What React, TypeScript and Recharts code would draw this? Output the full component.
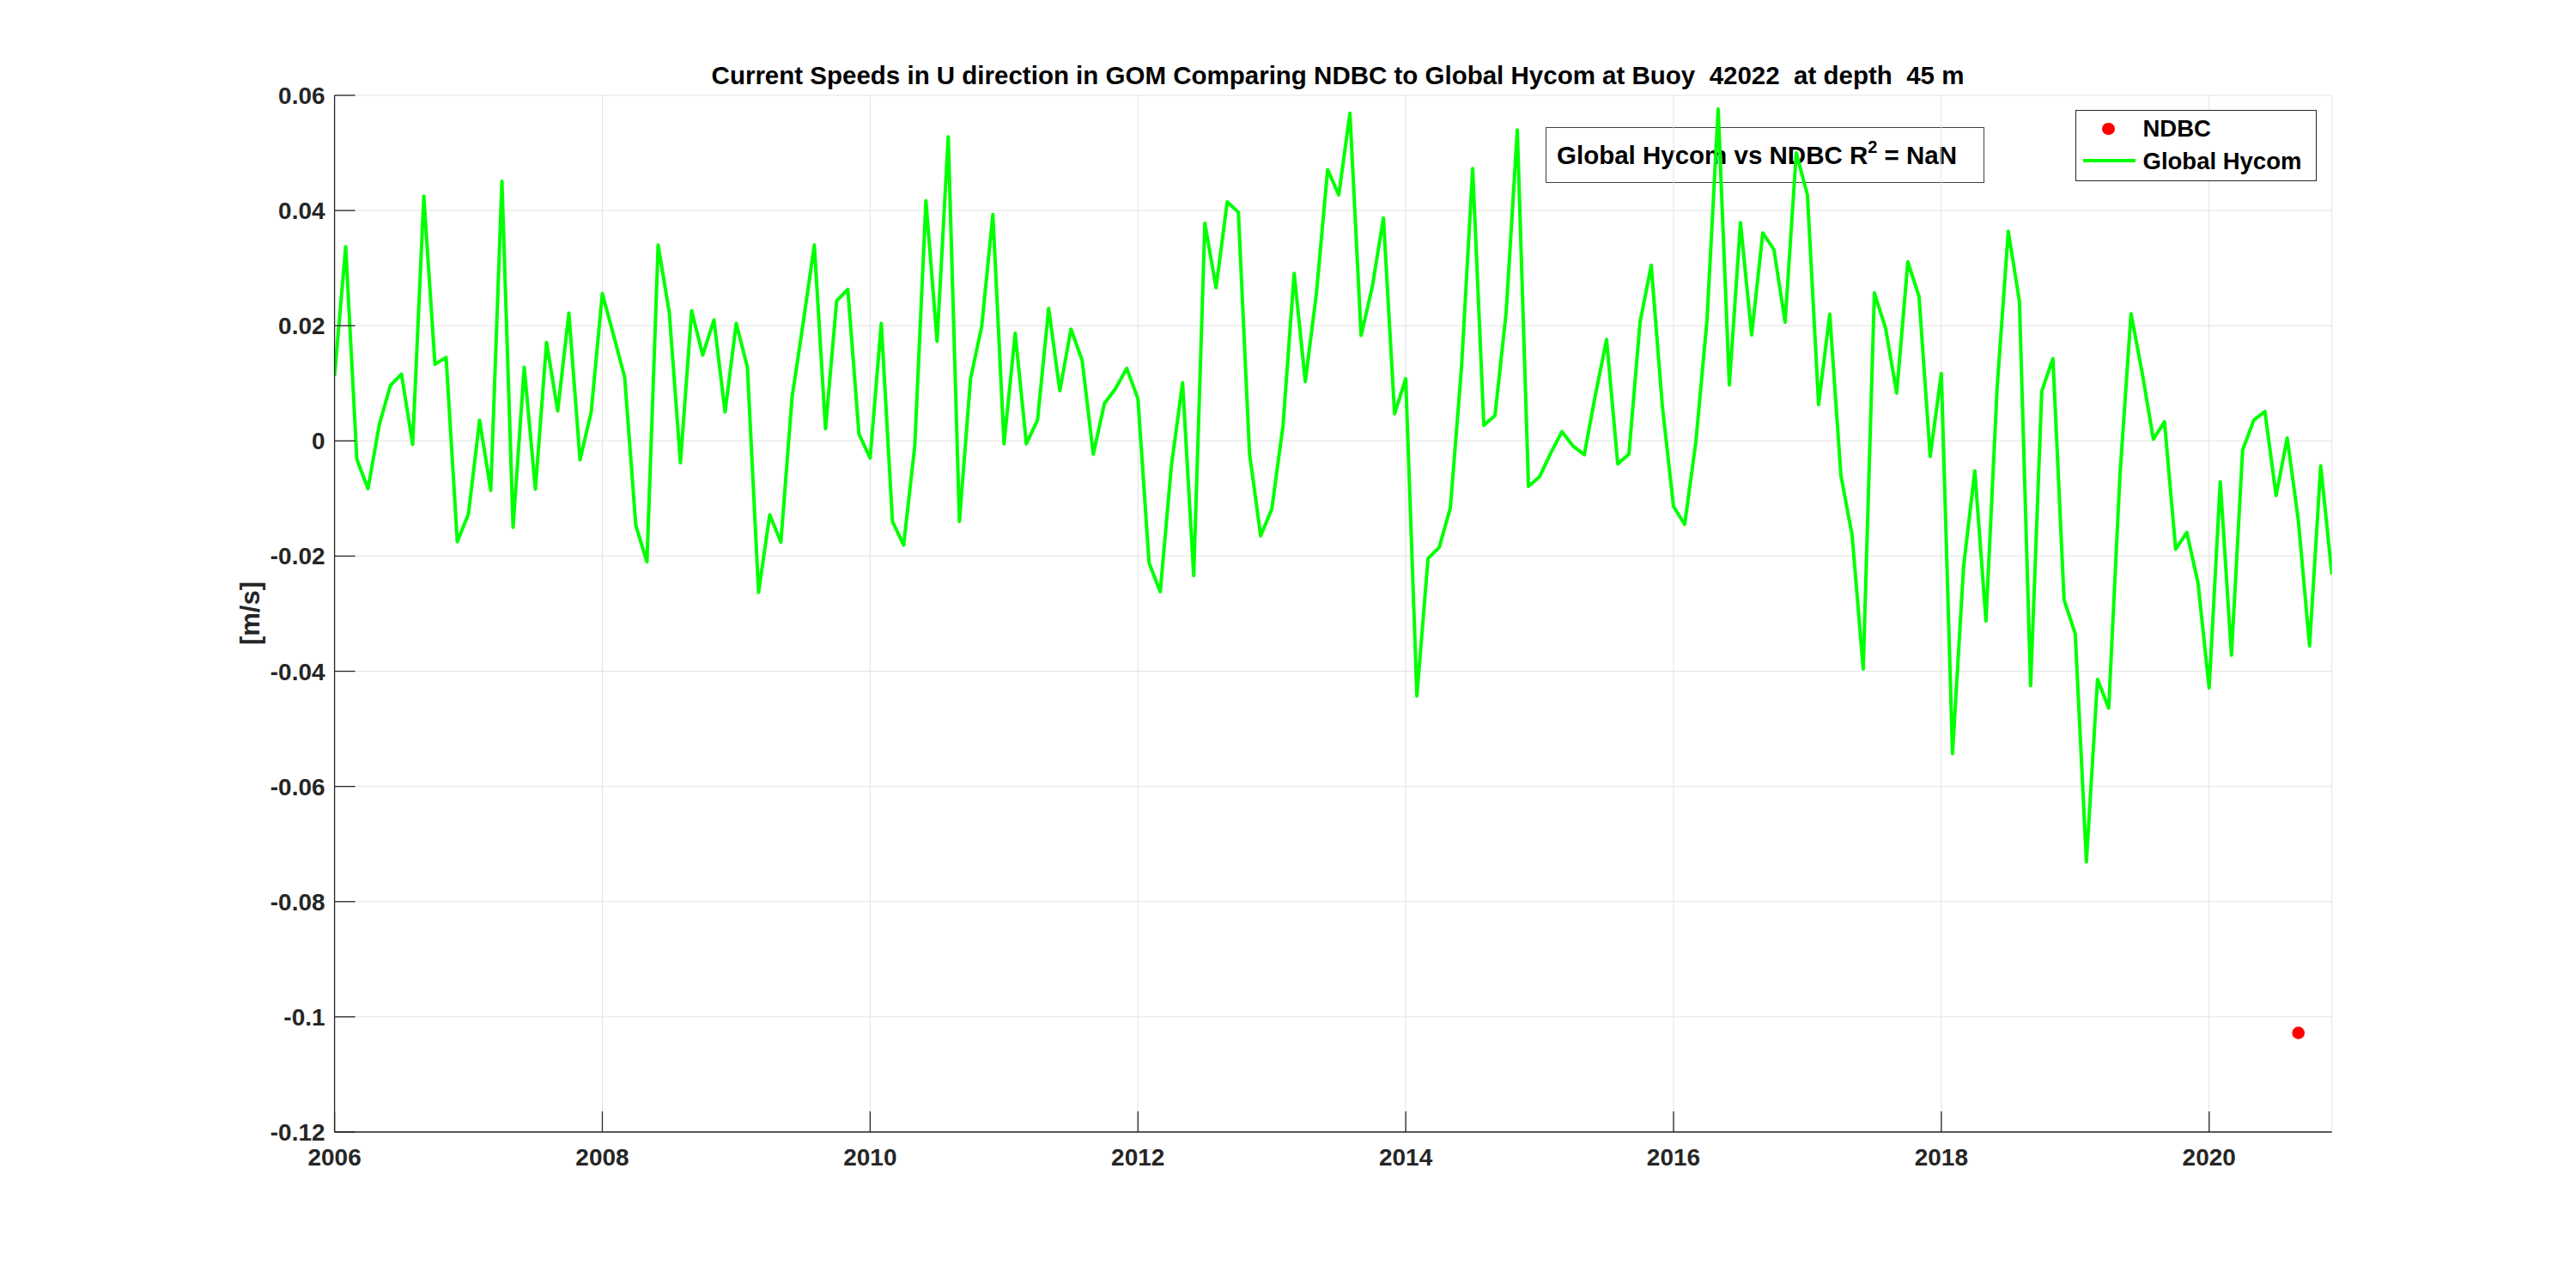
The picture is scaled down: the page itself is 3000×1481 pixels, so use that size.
import React from 'react';
import { ComposedChart, Line, Scatter, XAxis, YAxis, CartesianGrid } from 'recharts';

// Monthly Global Hycom U-velocity (m/s), Jan 2006 .. Dec 2020
const START_YEAR = 2006;
const hycomU: number[] = [
  0.0113, 0.0337, -0.0032, -0.0083, 0.0027, 0.0096, 0.0116, -0.0006, 0.0425, 0.0133, 0.0145, -0.0175,
  -0.0127, 0.0036, -0.0086, 0.0451, -0.0150, 0.0128, -0.0084, 0.0171, 0.0052, 0.0222, -0.0033, 0.0050,
  0.0256, 0.0184, 0.0111, -0.0147, -0.0210, 0.0340, 0.0223, -0.0038, 0.0226, 0.0149, 0.0210, 0.0050,
  0.0204, 0.0128, -0.0263, -0.0128, -0.0176, 0.0075, 0.0205, 0.0340, 0.0021, 0.0243, 0.0263, 0.0012,
  -0.0030, 0.0204, -0.0140, -0.0181, -0.0009, 0.0417, 0.0173, 0.0528, -0.0140, 0.0108, 0.0199, 0.0393,
  -0.0005, 0.0187, -0.0005, 0.0036, 0.0230, 0.0087, 0.0194, 0.0140, -0.0023, 0.0065, 0.0091, 0.0126,
  0.0073, -0.0212, -0.0262, -0.0043, 0.0101, -0.0234, 0.0378, 0.0266, 0.0415, 0.0397, -0.0022, -0.0165,
  -0.0118, 0.0026, 0.0291, 0.0103, 0.0257, 0.0471, 0.0427, 0.0569, 0.0183, 0.0267, 0.0387, 0.0047,
  0.0108, -0.0443, -0.0204, -0.0185, -0.0116, 0.0128, 0.0473, 0.0027, 0.0044, 0.0223, 0.0540, -0.0079,
  -0.0062, -0.0021, 0.0016, -0.0009, -0.0024, 0.0080, 0.0176, -0.0040, -0.0023, 0.0206, 0.0305, 0.0060,
  -0.0114, -0.0145, -0.0002, 0.0210, 0.0576, 0.0097, 0.0379, 0.0184, 0.0361, 0.0332, 0.0206, 0.0500,
  0.0427, 0.0063, 0.0220, -0.0060, -0.0163, -0.0396, 0.0257, 0.0196, 0.0083, 0.0311, 0.0251, -0.0027,
  0.0117, -0.0543, -0.0217, -0.0052, -0.0313, 0.0092, 0.0364, 0.0242, -0.0425, 0.0086, 0.0143, -0.0276,
  -0.0335, -0.0731, -0.0414, -0.0464, -0.0062, 0.0221, 0.0118, 0.0003, 0.0033, -0.0188, -0.0159, -0.0246,
  -0.0429, -0.0071, -0.0372, -0.0016, 0.0036, 0.0051, -0.0095, 0.0005, -0.0139, -0.0356, -0.0043, -0.0232,
];

// NDBC observation (only one valid monthly value)
const ndbcYear = 2020;
const ndbcMonth = 9; // September
const ndbcU = -0.1028;

const xTicks = [2006, 2008, 2010, 2012, 2014, 2016, 2018, 2020];
const yTicks = [0.06, 0.04, 0.02, 0, -0.02, -0.04, -0.06, -0.08, -0.1, -0.12];

const data = hycomU.map((v, i) => ({ t: START_YEAR + i / 12, hycom: v }));
const ndbcData = [{ t: ndbcYear + (ndbcMonth - 1) / 12, ndbc: ndbcU }];

const W = 2984;
const H = 1465;
const PLOT_LEFT = 381.6;
const PLOT_TOP = 103;
const PLOT_W = 2326.1;
const PLOT_H = 1207;
const YAXIS_W = 100;
const XAXIS_H = 60;

const FONT = '"Liberation Sans", Arial, Helvetica, sans-serif';
const AXC = '#262626';
const TL = 24;

const fmtY = (v: number) => String(Number(v.toFixed(2)));

const BottomTick = (p: any) => (
  <g>
    <line x1={p.x} y1={p.y} x2={p.x} y2={p.y - TL} stroke={AXC} strokeWidth={1.3} />
    <text x={p.x} y={p.y + 39} textAnchor="middle" fill={AXC} fontFamily={FONT} fontWeight="bold" fontSize={28}>
      {p.payload.value}
    </text>
  </g>
);
const TopTick = (p: any) => (
  <line x1={p.x} y1={p.y} x2={p.x} y2={p.y + TL} stroke={AXC} strokeWidth={1.3} />
);
const LeftTick = (p: any) => (
  <g>
    <line x1={p.x} y1={p.y} x2={p.x + TL} y2={p.y} stroke={AXC} strokeWidth={1.3} />
    <text x={p.x - 11} y={p.y + 10} textAnchor="end" fill={AXC} fontFamily={FONT} fontWeight="bold" fontSize={28}>
      {fmtY(p.payload.value)}
    </text>
  </g>
);
const RightTick = (p: any) => (
  <line x1={p.x} y1={p.y} x2={p.x - TL} y2={p.y} stroke={AXC} strokeWidth={1.3} />
);

export default function App() {
  const xDomain: [number, number] = [START_YEAR, START_YEAR + (hycomU.length - 1) / 12];
  const yDomain: [number, number] = [-0.12, 0.06];
  return (
    <div style={{ position: 'relative', width: W, height: H, fontFamily: FONT, background: '#fff' }}>
      {/* text box (under the chart, transparent) */}
      <div
        style={{
          position: 'absolute', left: 1792, top: 140, width: 511, height: 65, boxSizing: 'border-box',
          border: '1.5px solid #404040', display: 'flex', alignItems: 'center', paddingLeft: 12,
          fontWeight: 'bold', fontSize: 29.5, color: '#000', whiteSpace: 'nowrap',
        }}
      >
        <span>
          Global Hycom vs NDBC R<sup style={{ fontSize: 20, verticalAlign: 'baseline', position: 'relative', top: -13 }}>2</sup> = NaN
        </span>
      </div>
      <div style={{ position: 'absolute', left: 0, top: 0 }}>
        <ComposedChart
          width={W}
          height={H}
          data={data}
          margin={{ top: PLOT_TOP, left: PLOT_LEFT - YAXIS_W, right: W - PLOT_LEFT - PLOT_W, bottom: H - PLOT_TOP - PLOT_H - XAXIS_H }}
        >
          <CartesianGrid stroke="#e3e3e3" strokeWidth={1} />
          <XAxis
            dataKey="t" type="number" domain={xDomain} allowDataOverflow ticks={xTicks} interval={0}
            height={XAXIS_H} tickSize={0} tickMargin={0} tick={BottomTick}
            axisLine={{ stroke: AXC, strokeWidth: 1.3 }} tickLine={false}
          />
          <XAxis
            xAxisId="top" orientation="top" dataKey="t" type="number" domain={xDomain} allowDataOverflow
            ticks={xTicks} interval={0} height={0} tickSize={0} tickMargin={0} tick={TopTick}
            axisLine={{ stroke: AXC, strokeWidth: 1.3 }} tickLine={false}
          />
          <YAxis
            type="number" domain={yDomain} allowDataOverflow ticks={yTicks} interval={0}
            width={YAXIS_W} tickSize={0} tickMargin={0} tick={LeftTick}
            axisLine={{ stroke: AXC, strokeWidth: 1.3 }} tickLine={false}
          />
          <YAxis
            yAxisId="right" orientation="right" type="number" domain={yDomain} allowDataOverflow ticks={yTicks}
            interval={0} width={0} tickSize={0} tickMargin={0} tick={RightTick}
            axisLine={{ stroke: AXC, strokeWidth: 1.3 }} tickLine={false}
          />
          <Line
            dataKey="hycom" stroke="#00ff00" strokeWidth={4} dot={false} isAnimationActive={false}
            strokeLinejoin="round" type="linear"
          />
          <Scatter
            data={ndbcData} dataKey="ndbc" fill="#ff0000" isAnimationActive={false}
            shape={(p: any) => <circle cx={p.cx} cy={p.cy} r={7.3} fill="#ff0000" />}
          />
        </ComposedChart>
      </div>
      {/* title */}
      <div
        style={{
          position: 'absolute', left: 550, top: 60, width: 2000, textAlign: 'center', lineHeight: '40px',
          fontWeight: 'bold', fontSize: 29.5, color: '#000', whiteSpace: 'nowrap',
        }}
      >
        Current Speeds in U direction in GOM Comparing NDBC to Global Hycom at Buoy&nbsp; 42022&nbsp; at depth&nbsp; 45 m
      </div>
      {/* y label */}
      <div
        style={{
          position: 'absolute', left: 283, top: 706, transform: 'translate(-50%, -50%) rotate(-90deg)',
          fontWeight: 'bold', fontSize: 31, color: AXC, whiteSpace: 'nowrap', lineHeight: 1,
        }}
      >
        [m/s]
      </div>
      {/* legend */}
      <div
        style={{
          position: 'absolute', left: 2409, top: 120, width: 281, height: 83, boxSizing: 'border-box',
          border: '1.5px solid #262626', background: '#fff',
        }}
      >
        <div style={{ position: 'absolute', left: 39 - 7.3 - 1.5, top: 22.5 - 7.3 - 1.5, width: 14.6, height: 14.6, borderRadius: '50%', background: '#ff0000' }} />
        <div style={{ position: 'absolute', left: 9 - 1.5, top: 59 - 2 - 1.5, width: 61, height: 4, background: '#00ff00' }} />
        <div style={{ position: 'absolute', left: 79 - 1.5, top: 22.5 - 16 - 1.5, lineHeight: '32px', fontSize: 27.5, fontWeight: 'bold', color: '#000', whiteSpace: 'nowrap' }}>NDBC</div>
        <div style={{ position: 'absolute', left: 79 - 1.5, top: 60 - 16 - 1.5, lineHeight: '32px', fontSize: 27.5, fontWeight: 'bold', color: '#000', whiteSpace: 'nowrap' }}>Global Hycom</div>
      </div>
    </div>
  );
}
